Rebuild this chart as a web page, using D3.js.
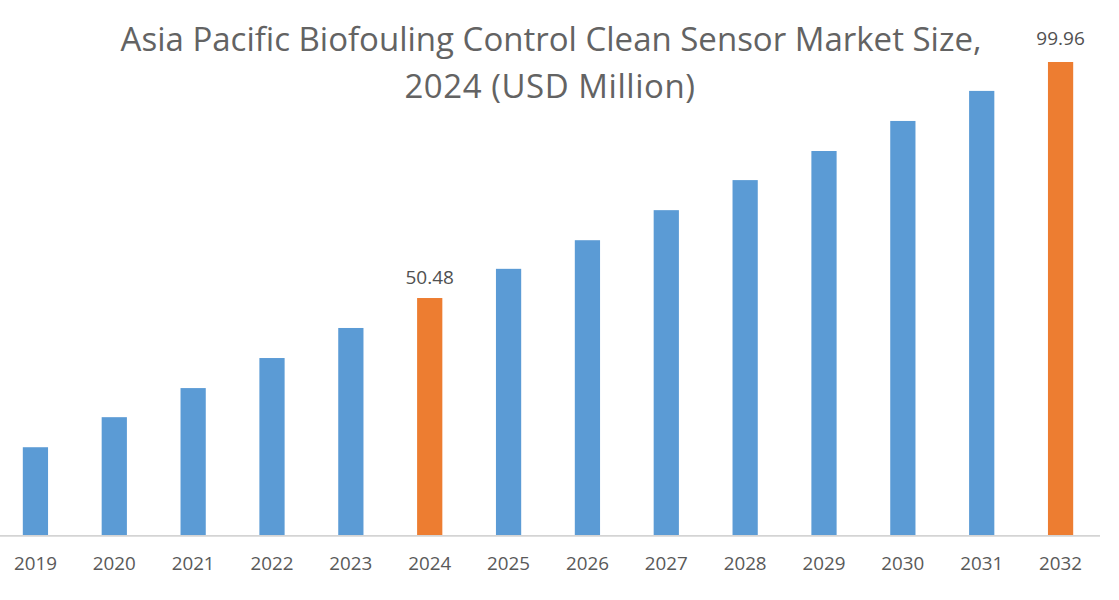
<!DOCTYPE html>
<html><head><meta charset="utf-8">
<script src="https://cdn.jsdelivr.net/npm/d3@7"></script>
<style>html,body{margin:0;background:#fff}svg{display:block}text{font-family:"Open Sans","Noto Sans",sans-serif}</style>
</head><body><svg id="c" width="1119" height="600"></svg>
<script>
const categories=["2019","2020","2021","2022","2023","2024","2025","2026","2027","2028","2029","2030","2031","2032"];
const values=[19.2,25.5,31.6,37.9,44.2,50.48,56.6,62.6,68.9,75.2,81.3,87.6,93.9,99.96];
const highlighted=["2024","2032"];
const labels={"2024":"50.48","2032":"99.96"};
const titleLines=["Asia Pacific Biofouling Control Clean Sensor Market Size,","2024 (USD Million)"];
const svg=d3.select("#c");
const x=d3.scaleBand().domain(categories).range([-4,1100]).paddingInner(0.68).paddingOuter(0.34);
const y=d3.scaleLinear().domain([0.8,99.96]).range([535,62]);
svg.append("g").selectAll("rect").data(categories).join("rect")
 .attr("x",d=>x(d)).attr("width",x.bandwidth())
 .attr("y",(d,i)=>y(values[i])).attr("height",(d,i)=>y(y.domain()[0])-y(values[i]))
 .attr("fill",d=>highlighted.includes(d)?"#ed7d31":"#5b9bd5");
svg.append("line").attr("x1",0).attr("x2",1100).attr("y1",535.8).attr("y2",535.8).attr("stroke","#d4d4d4").attr("stroke-width",1.8);
svg.append("g").attr("font-size",18.8).attr("fill","#595959").attr("text-anchor","middle").selectAll("text").data(categories).join("text")
 .attr("x",d=>x(d)+x.bandwidth()/2).attr("y",570).text(d=>d);
svg.append("g").attr("font-size",19).attr("fill","#505050").attr("text-anchor","middle").selectAll("text").data(highlighted).join("text")
 .attr("x",d=>x(d)+x.bandwidth()/2).attr("y",d=>y(values[categories.indexOf(d)])-(d==="2032"?17:14)).text(d=>labels[d]);
svg.append("g").attr("font-size",33).attr("fill","#636363").attr("text-anchor","middle").selectAll("text").data(titleLines).join("text")
 .attr("x",(d,i)=>551-i).attr("y",(d,i)=>51+i*47).attr("letter-spacing",(d,i)=>i?0.55:0).text(d=>d);
</script></body></html>
